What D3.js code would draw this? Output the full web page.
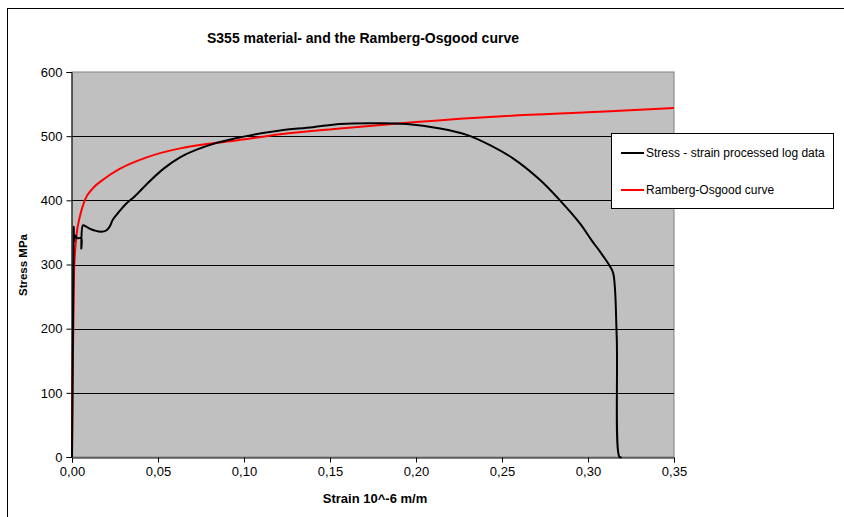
<!DOCTYPE html>
<html>
<head>
<meta charset="utf-8">
<script src="https://cdn.jsdelivr.net/npm/d3@7"></script>
<style>
  body { margin: 0; background: #fff; }
  text { font-family: "Liberation Sans", Arial, sans-serif; }
</style>
</head>
<body>
<svg width="844" height="517"></svg>
<script>
// measured stress-strain (strain, MPa)
const testStrain = [0, 0.0005, 0.0010, 0.0012, 0.0018, 0.0031, 0.0054, 0.0054, 0.0064, 0.0083, 0.0103, 0.0132, 0.0170, 0.0199, 0.0219, 0.0238, 0.0267, 0.0316, 0.0364, 0.0430, 0.0531, 0.0628, 0.0725, 0.0822, 0.0958, 0.111, 0.121, 0.140, 0.1558, 0.1752, 0.1946, 0.214, 0.2295, 0.243, 0.2566, 0.272, 0.2837, 0.2953, 0.302, 0.307, 0.3128, 0.3147, 0.3167, 0.3183, 0.3195];
const testStress = [0, 180, 359, 335, 345, 341, 341, 325, 361, 359, 356, 353, 351, 353, 359, 370, 380, 395, 406, 424, 449, 467, 479, 488, 497, 505, 509, 514, 519, 520, 519, 512, 502, 486, 465, 432, 400, 364, 338, 320, 297, 286, 187, 0, 0];

// Ramberg-Osgood curve (strain, MPa)
const roStrain = [0, 0.0005, 0.0012, 0.0016, 0.0025, 0.0045, 0.0074, 0.0122, 0.019, 0.0277, 0.0434, 0.0628, 0.0822, 0.0919, 0.121, 0.1558, 0.20, 0.25, 0.307, 0.35];
const roStress = [0, 150, 290, 312, 343, 374, 400, 419, 434, 449, 467, 481, 489, 492, 503, 512, 522, 531, 538, 544];

const yTicks = [0, 100, 200, 300, 400, 500, 600];
const xTicks = [0, 0.05, 0.10, 0.15, 0.20, 0.25, 0.30, 0.35];

const svg = d3.select("svg");
const pLeft = 72, pRight = 674, pTop = 72, pBottom = 457;

// outer frame
svg.append("rect").attr("x", 7.5).attr("y", 8.5).attr("width", 850).attr("height", 520)
  .style("fill", "none").style("stroke", "#000").style("stroke-width", 1);

const x = d3.scaleLinear().domain([0, 0.35]).range([pLeft, pRight]);
const y = d3.scaleLinear().domain([0, 600]).range([pBottom, pTop]);

svg.append("rect").attr("x", pLeft).attr("y", pTop).attr("width", pRight - pLeft).attr("height", pBottom - pTop)
  .style("fill", "#c0c0c0").style("stroke", "#808080");

svg.append("g").selectAll("line").data(yTicks.slice(1, -1)).join("line")
  .attr("x1", pLeft).attr("x2", pRight)
  .attr("y1", d => Math.round(y(d)) + 0.5).attr("y2", d => Math.round(y(d)) + 0.5)
  .style("stroke", "#000").style("stroke-width", 1);

const fmt = d => d.toFixed(2).replace(".", ",");

const xAxis = svg.append("g").attr("transform", `translate(0,${pBottom + 0.5})`)
  .call(d3.axisBottom(x).tickValues(xTicks).tickFormat(fmt).tickSize(5).tickPadding(4));
const yAxis = svg.append("g").attr("transform", `translate(${pLeft - 0.5},0)`)
  .call(d3.axisLeft(y).tickValues(yTicks).tickSize(5).tickPadding(4));
[xAxis, yAxis].forEach(g => {
  g.select(".domain").style("stroke", "#000");
  g.selectAll("text").style("font-size", "13px").style("fill", "#000")
    .style("font-family", "'Liberation Sans', Arial, sans-serif");
});

const line = (xs, ys, curve) => d3.line().curve(curve)
  .x((d, i) => x(xs[i])).y((d, i) => y(ys[i]))(xs);

svg.append("path").attr("d", line(roStrain, roStress, d3.curveMonotoneX))
  .style("fill", "none").style("stroke", "#ff0000").style("stroke-width", 2);
svg.append("path").attr("d", line(testStrain, testStress, d3.curveCatmullRom.alpha(0.5)))
  .style("fill", "none").style("stroke", "#000").style("stroke-width", 2).style("stroke-linejoin", "round");

// title and axis labels
svg.append("text").attr("x", 363).attr("y", 43).attr("text-anchor", "middle")
  .style("font-size", "14px").style("font-weight", "bold").text("S355 material- and the Ramberg-Osgood curve");
svg.append("text").attr("x", 375).attr("y", 503).attr("text-anchor", "middle")
  .style("font-size", "13px").style("font-weight", "bold").text("Strain 10^-6 m/m");
svg.append("text").attr("transform", "translate(27,265) rotate(-90)").attr("text-anchor", "middle")
  .style("font-size", "11.5px").style("font-weight", "bold").text("Stress MPa");

// legend
const lg = svg.append("g");
lg.append("rect").attr("x", 611.5).attr("y", 133.5).attr("width", 222).attr("height", 75)
  .style("fill", "#fff").style("stroke", "#000");
const items = [["Stress - strain processed log data", "#000", 153], ["Ramberg-Osgood curve", "#ff0000", 190]];
items.forEach(([label, col, yy]) => {
  lg.append("line").attr("x1", 621).attr("x2", 644).attr("y1", yy).attr("y2", yy)
    .style("stroke", col).style("stroke-width", 2);
  lg.append("text").attr("x", 646).attr("y", yy + 4).style("font-size", "12px").text(label);
});
</script>
</body>
</html>
